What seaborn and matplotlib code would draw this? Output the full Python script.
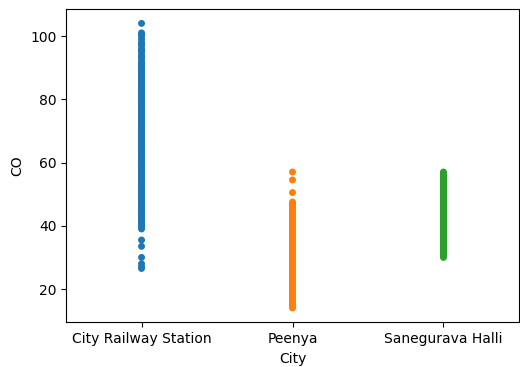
import seaborn as sns
import matplotlib.pyplot as plt
import pandas as pd

# CO readings per city
railway_station = [104, 101, 100.5, 100, 99, 98, 97.5, 97, 96, 95.5, 95, 94, 93.5,
                   93, 92, 91.5, 91, 90.5, 90, 89.5, 89, 88.5, 88, 87.5, 87, 86.5,
                   86, 85.5, 85, 84.5, 84, 83.5, 83, 82.5, 82, 81.5, 81, 80.5, 80,
                   79.5, 79, 78.5, 78, 77.5, 77, 76.5, 76, 75.5, 75, 74.5, 74, 73.5,
                   73, 72.5, 72, 71.5, 71, 70.5, 70, 69.5, 69, 68.5, 68, 67.5, 67,
                   66.5, 66, 65.5, 65, 64.5, 64, 63.5, 63, 62.5, 62, 61.5, 61, 60.5,
                   60, 59.5, 59, 58.5, 58, 57.5, 57, 56.5, 56, 55.5, 55, 54.5, 54,
                   53.5, 53, 52.5, 52, 51.5, 51, 50.5, 50, 49.5, 49, 48.5, 48, 47.5,
                   47, 46.5, 46, 45.5, 45, 44.5, 44, 43.5, 43, 42.5, 42, 41.5, 41,
                   40.5, 40, 39.5, 39, 35.5, 33.5, 30, 28, 27, 26.5]
peenya = [57, 54.5, 50.5, 47.5, 47, 46.5, 46, 45.5, 45, 44.5, 44, 43.5, 43, 42.5,
          42, 41.5, 41, 40.5, 40, 39.5, 39, 38.5, 38, 37.5, 37, 36.5, 36, 35.5, 35,
          34.5, 34, 33.5, 33, 32.5, 32, 31.5, 31, 30.5, 30, 29.5, 29, 28.5, 28,
          27.5, 27, 26.5, 26, 25.5, 25, 24.5, 24, 23.5, 23, 22.5, 22, 21.5, 21,
          20.5, 20, 19.5, 19, 18.5, 18, 17.5, 17, 16.5, 16, 15.5, 15, 14.5, 14]
sanegurava = [57, 56.5, 56, 55.5, 55, 54.5, 54, 53.5, 53, 52.5, 52, 51.5, 51, 50.5,
              50, 49.5, 49, 48.5, 48, 47.5, 47, 46.5, 46, 45.5, 45, 44.5, 44, 43.5,
              43, 42.5, 42, 41.5, 41, 40.5, 40, 39.5, 39, 38.5, 38, 37.5, 37, 36.5,
              36, 35.5, 35, 34.5, 34, 33.5, 33, 32.5, 32, 31.5, 31, 30.5, 30]

cities = ['City Railway Station', 'Peenya', 'Sanegurava Halli']

df = pd.DataFrame({
    'City': [cities[0]] * len(railway_station) + [cities[1]] * len(peenya)
            + [cities[2]] * len(sanegurava),
    'CO': railway_station + peenya + sanegurava,
})

fig, ax = plt.subplots(figsize=(5.2, 3.67), dpi=100)
fig.subplots_adjust(left=0.127, right=0.998, top=0.975, bottom=0.122)

sns.stripplot(x='City', y='CO', hue='City', data=df, jitter=False,
              legend=False, ax=ax)

plt.savefig('out.png', dpi=100)
